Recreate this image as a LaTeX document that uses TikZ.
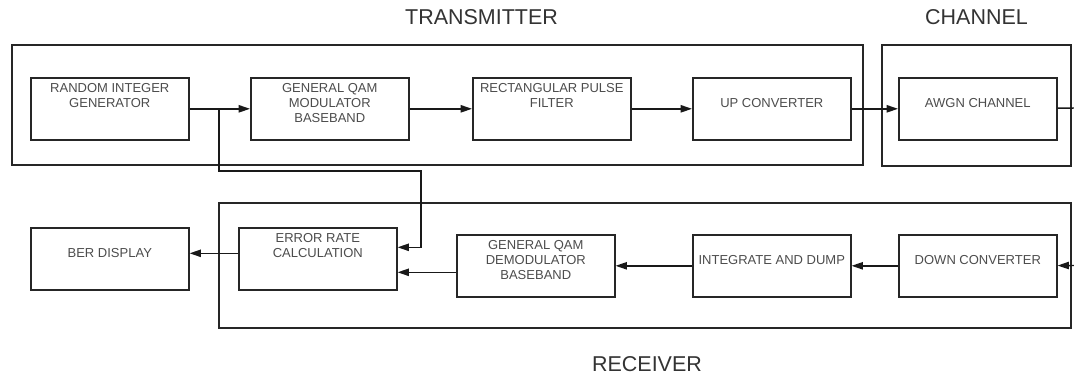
\documentclass[tikz,border=0pt]{standalone}
\usepackage{fontspec}
\setmainfont{Liberation Sans}
\usetikzlibrary{arrows.meta}

\newcommand{\blktxt}[2][11pt]{\parbox[t][46.5pt][t]{118.5pt}{\centering\rule{0pt}{#1}#2}}

\tikzset{
    blk/.style={draw=black!85, line width=1.2pt, anchor=north west, inner sep=0pt,
        minimum width=118.5pt, minimum height=46.5pt, text=black!70,
        font=\fontsize{9.75}{11.25}\selectfont},
    grp/.style={draw=black!85, line width=1.2pt},
    ttl/.style={text=black!80, font=\fontsize{16.1}{19}\selectfont},
    arr/.style={draw=black!90, line width=1.1pt, -{Triangle[length=8.5pt,width=5.5pt]}},
    wire/.style={draw=black!90, line width=1.1pt}
}

\begin{document}
\begin{tikzpicture}[x=0.75pt, y=-0.75pt]
    \useasboundingbox (0,0) rectangle (1074,376);

    % group frames
    \draw[grp] (12,45) rectangle (863,165);
    \draw[grp] (882,45) rectangle (1071,166);
    \draw[grp] (219,203) rectangle (1071,328);
    \node[ttl] (ttx) at (481.5,17.5) {TRANSMITTER};
    \node[ttl] (tch) at (976.5,16.7) {CHANNEL};
    \node[ttl] (trx) at (647,364) {RECEIVER};

    % transmitter and channel
    \node[blk] (rig) at (30,77) {\blktxt{RANDOM INTEGER\\GENERATOR}};
    \node[blk] (qam) at (250,77) {\blktxt{GENERAL QAM\\MODULATOR\\BASEBAND}};
    \node[blk] (rpf) at (472,77) {\blktxt{RECTANGULAR PULSE\\FILTER}};
    \node[blk] (upc) at (692,77) {\blktxt[22.25pt]{UP CONVERTER}};
    \node[blk] (awgn) at (898,77) {\blktxt[22.25pt]{AWGN CHANNEL}};

    % receiver
    \node[blk] (ber) at (30,227) {\blktxt[22.25pt]{BER DISPLAY}};
    \node[blk] (err) at (238,227) {\blktxt{ERROR RATE\\CALCULATION}};
    \node[blk] (dem) at (456,234) {\blktxt{GENERAL QAM\\DEMODULATOR\\BASEBAND}};
    \node[blk] (ind) at (692,234) {\blktxt[22.25pt]{INTEGRATE AND DUMP}};
    \node[blk] (dnc) at (898,234) {\blktxt[22.25pt]{DOWN CONVERTER}};

    \coordinate (tap) at (219,108);
    \coordinate (fbk) at (421,171);
    \coordinate (cho) at (1074,108);
    \coordinate (rxi) at (1074,265.5);

    % forward path
    \draw[arr] (rig) -- (qam);
    \draw[arr] (qam) -- (rpf);
    \draw[arr] (rpf) -- (upc);
    \draw[arr] (upc) -- (awgn);
    \draw[wire] (awgn) -- (cho);
    \draw[arr] (rxi) -- (dnc);
    \draw[arr] (dnc) -- (ind);
    \draw[arr] (ind) -- (dem);
    \draw[arr] ([yshift=-4.875pt]dem.west) -- ([yshift=-10.125pt]err.east);
    \draw[arr] ([yshift=4.125pt]err.west) -- ([yshift=4.125pt]ber.east);

    % reference bits
    \draw[arr] (tap) |- (fbk) |- ([yshift=8.625pt]err.east);
\end{tikzpicture}
\end{document}
